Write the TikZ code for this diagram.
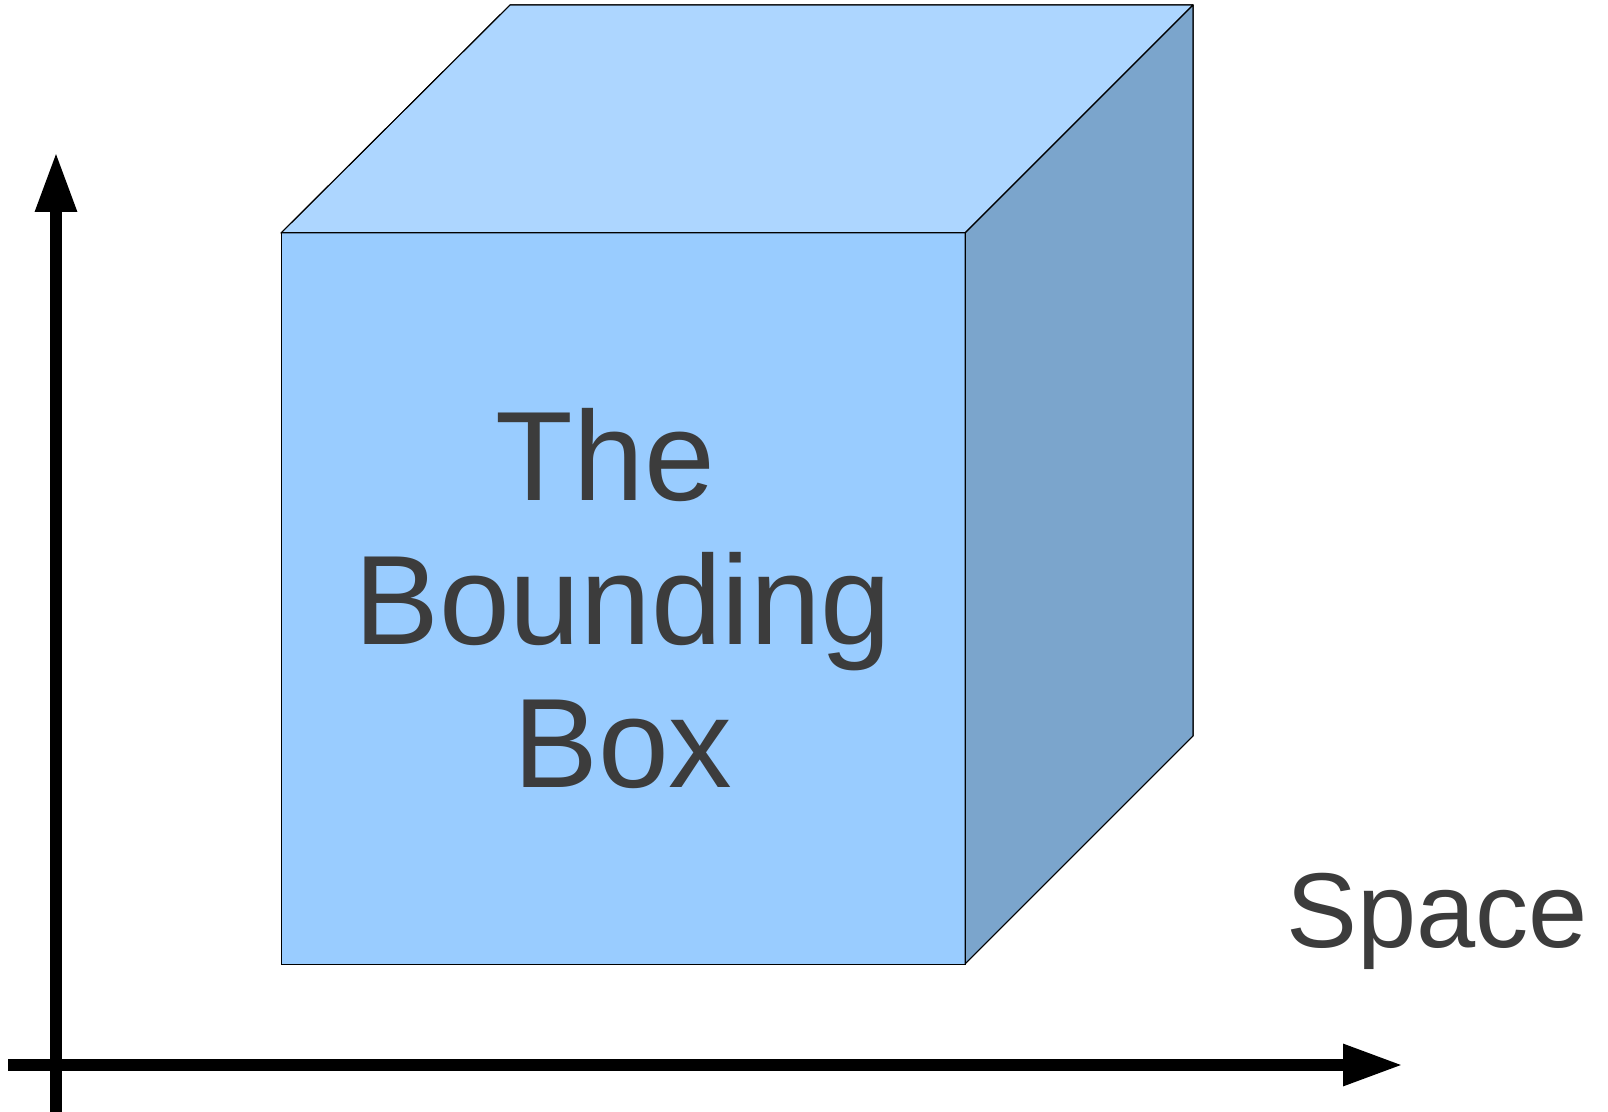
\documentclass[tikz,border=0pt]{standalone}
\usepackage{fontspec}
\setmainfont{Liberation Sans}
\usetikzlibrary{arrows.meta}

\definecolor{frontblue}{HTML}{99CCFF}
\definecolor{topblue}{HTML}{ADD6FF}
\definecolor{sideblue}{HTML}{7BA5CC}
\definecolor{labelgray}{HTML}{3C3C3C}

\begin{document}
\begin{tikzpicture}[
    x=0.5pt, y=-0.5pt,
    face/.style={draw=black, line width=0.5pt, line join=round},
    axis/.style={draw=black, line width=6pt, -{Triangle[length=30pt, width=19.5pt]}},
    label/.style={text=labelgray, inner sep=0pt}
]
\useasboundingbox (0,0) rectangle (1608,1112);

% Cube corners
\coordinate (F-tl) at (281,233);
\coordinate (F-tr) at (965,233);
\coordinate (F-br) at (965,964);
\coordinate (F-bl) at (281,964);
\coordinate (B-tl) at (510,5);
\coordinate (B-tr) at (1193,5);
\coordinate (B-br) at (1193,736);

% Faces
\fill[face, fill=topblue] (F-tl) -- (B-tl) -- (B-tr) -- (F-tr) -- cycle;
\fill[face, fill=sideblue] (F-tr) -- (B-tr) -- (B-br) -- (F-br) -- cycle;
\fill[face, fill=frontblue] (F-tl) -- (F-tr) -- (F-br) -- (F-bl) -- cycle;
\draw[face] (F-tl) -- (B-tl) -- (B-tr) -- (F-tr) -- cycle;
\draw[face] (F-tr) -- (B-tr) -- (B-br) -- (F-br) -- cycle;
\draw[face] (F-tl) -- (F-tr) -- (F-br) -- (F-bl) -- cycle;

\node[label, align=center, font=\fontsize{63.6pt}{71.75pt}\selectfont] (bbox) at (623,599) {The\ \hbox{}\\Bounding\\Box};

% Axes
\coordinate (origin-x) at (8,1065);
\coordinate (end-x) at (1403,1065);
\coordinate (origin-y) at (56,1112);
\coordinate (end-y) at (56,152);
\draw[axis] (origin-x) -- (end-x);
\draw[axis] (origin-y) -- (end-y);

\node[label, anchor=base west, font=\fontsize{53.2pt}{62pt}\selectfont] (space) at (1286,947) {Space};

\end{tikzpicture}
\end{document}
